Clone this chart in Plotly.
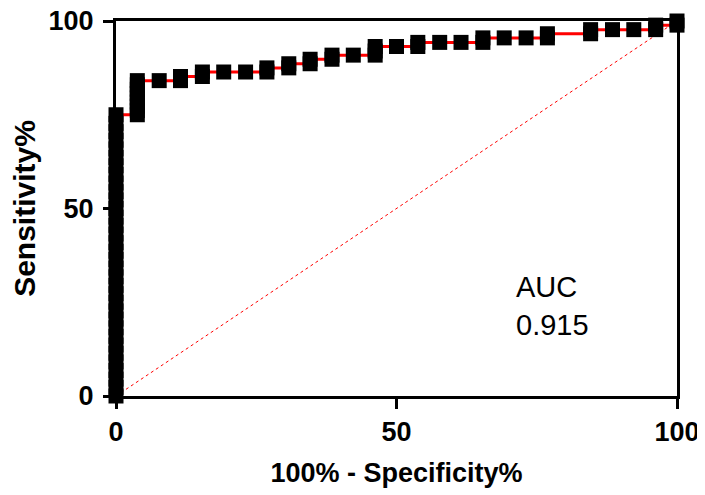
import plotly.graph_objects as go

# ROC points (100% - Specificity%, Sensitivity%)
fpr_pct = (
    [0.0] * 34
    + [3.8] * 9
    + [7.7]
    + [11.5, 11.5]
    + [15.4, 15.4]
    + [19.2]
    + [23.1]
    + [26.9, 26.9]
    + [30.8, 30.8]
    + [34.6, 34.6]
    + [38.5, 38.5]
    + [42.3]
    + [46.2, 46.2, 46.2]
    + [50.0]
    + [53.8, 53.8]
    + [57.7]
    + [61.5]
    + [65.4, 65.4]
    + [69.2]
    + [73.1]
    + [76.9, 76.9]
    + [84.6, 84.6]
    + [88.5]
    + [92.3]
    + [96.2, 96.2]
    + [100.0, 100.0]
)
sens_pct = (
    [0.0, 2.3, 4.5, 6.8, 9.1, 11.4, 13.6, 15.9, 18.2, 20.5, 22.7, 25.0,
     27.3, 29.5, 31.8, 34.1, 36.4, 38.6, 40.9, 43.2, 45.5, 47.7, 50.0, 52.3,
     54.5, 56.8, 59.1, 61.4, 63.6, 65.9, 68.2, 70.5, 72.7, 75.0]
    + [75.0, 76.1, 77.3, 78.4, 79.5, 80.7, 81.8, 83.0, 84.1]
    + [84.1]
    + [84.1, 85.2]
    + [85.2, 86.4]
    + [86.4]
    + [86.4]
    + [86.4, 87.5]
    + [87.5, 88.6]
    + [88.6, 89.8]
    + [89.8, 90.9]
    + [90.9]
    + [90.9, 92.0, 93.2]
    + [93.2]
    + [93.2, 94.3]
    + [94.3]
    + [94.3]
    + [94.3, 95.5]
    + [95.5]
    + [95.5]
    + [95.5, 96.6]
    + [96.6, 97.7]
    + [97.7]
    + [97.7]
    + [97.7, 98.9]
    + [98.9, 100.0]
)

ref_x = [0, 100]
ref_y = [0, 100]
x_ticks = [0, 50, 100]
y_ticks = [0, 50, 100]
auc_text = "AUC<br>0.915"

FONT = "Liberation Sans, Arial, sans-serif"

fig = go.Figure()
fig.add_trace(go.Scatter(
    x=ref_x, y=ref_y, mode="lines",
    line=dict(color="red", width=1, dash="dot"),
    hoverinfo="skip", showlegend=False, cliponaxis=False,
))
fig.add_trace(go.Scatter(
    x=fpr_pct, y=sens_pct, mode="lines+markers",
    line=dict(color="red", width=3),
    marker=dict(symbol="square", size=15, color="black"),
    showlegend=False, cliponaxis=False,
))

fig.add_annotation(
    x=70.9, y=24.1, xref="x", yref="y", text=auc_text, showarrow=False,
    xanchor="left", yanchor="middle", align="left",
    font=dict(family=FONT, size=29, color="black"),
)

axis_common = dict(
    range=[0, 100], showline=True, linewidth=3, linecolor="black",
    mirror=True, ticks="outside", ticklen=10, tickwidth=3, tickcolor="black",
    showgrid=False, zeroline=False, ticklabeloverflow="allow",
    tickfont=dict(family=FONT, size=27, color="black", weight="bold"),
)

# page body has an 8px default margin, so offsets compensate for it
fig.update_layout(
    width=705, height=495,
    margin=dict(l=108, r=36, t=13, b=107, autoexpand=False),
    paper_bgcolor="white", plot_bgcolor="white",
    xaxis=dict(**axis_common, tickvals=x_ticks,
               title=dict(text="100% - Specificity%", standoff=17,
                          font=dict(family=FONT, size=27, color="black", weight="bold"))),
    yaxis=dict(**axis_common, tickvals=y_ticks, ticklabelstandoff=4,
               title=dict(text="Sensitivity%", standoff=8,
                          font=dict(family=FONT, size=30, color="black", weight="bold"))),
)

fig.write_html("out.html")
